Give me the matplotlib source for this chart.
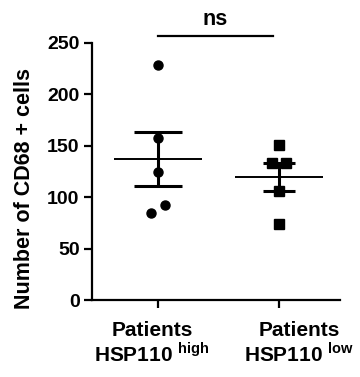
import matplotlib
matplotlib.use("Agg")
import matplotlib.pyplot as plt
import matplotlib.transforms as mtransforms
import numpy as np

plt.rcParams['font.family'] = ['Liberation Sans', 'DejaVu Sans']
plt.rcParams['font.weight'] = 'bold'
plt.rcParams['mathtext.fontset'] = 'custom'
plt.rcParams['mathtext.rm'] = 'Liberation Sans:bold'
plt.rcParams['mathtext.bf'] = 'Liberation Sans:bold'

# data
high_vals = [228, 157, 124, 92, 85]
low_vals = [151, 133, 133, 106, 74]
group_names = ["Patients\nHSP110 $^{\\rm high}$", "Patients\nHSP110 $^{\\rm low}$"]
y_ticks = [0, 50, 100, 150, 200, 250]

# small horizontal spread of the dots (layout only)
high_dx = [0, 0, 0, 0.055, -0.058]
low_dx = [0, -0.055, 0.055, 0, 0]

fig = plt.figure(figsize=(3.6, 3.77), dpi=100)
ax = fig.add_axes([0.2556, 0.204, 0.689, 0.683])

groups = [(1, high_vals, high_dx, 'o', 17.6), (2, low_vals, low_dx, 's', 11.8)]
for xpos, vals, dx, mk, cap in groups:
    vals = np.array(vals, dtype=float)
    m = vals.mean()
    sem = vals.std(ddof=1) / np.sqrt(len(vals))
    ax.plot(xpos + np.array(dx), vals, linestyle='none', marker=mk,
            color='black', markersize=6.5, clip_on=False, zorder=3)
    ax.hlines(m, xpos - 0.36, xpos + 0.36, color='black', linewidth=1.4)
    ax.errorbar([xpos], [m], yerr=[sem], fmt='none', ecolor='black',
                elinewidth=2.2, capsize=cap, capthick=2.2)

ax.set_xlim(0.455, 2.505)
ax.set_ylim(0, 250)
ax.set_yticks(y_ticks)
ax.set_xticks([1, 2])
ax.set_xticklabels(['', ''])
ax.tick_params(axis='y', labelsize=14, width=1.6, length=6, pad=3)
ax.tick_params(axis='x', width=1.6, length=6)
for s in ['top', 'right']:
    ax.spines[s].set_visible(False)
for s in ['left', 'bottom']:
    ax.spines[s].set_linewidth(1.6)

ax.set_ylabel("Number of CD68 + cells", fontsize=15.5, fontweight='bold')
ax.yaxis.set_label_coords(-0.23, 0.435)

# group labels under the ticks
trans = mtransforms.blended_transform_factory(ax.transData, ax.transAxes)
ax.text(0.95, -0.08, group_names[0], transform=trans, ha='center', va='top',
        fontsize=15, fontweight='bold', linespacing=1.1)
ax.text(2.17, -0.08, group_names[1], transform=trans, ha='center', va='top',
        fontsize=15, fontweight='bold', linespacing=1.1)

# significance bar
ax.plot([1.0, 1.95], [256.5, 256.5], color='black', linewidth=1.6, clip_on=False)
ax.text(1.47, 262, "ns", ha='center', va='bottom', fontsize=15.5, fontweight='bold')

fig.savefig("out.png", dpi=100, facecolor='white')
